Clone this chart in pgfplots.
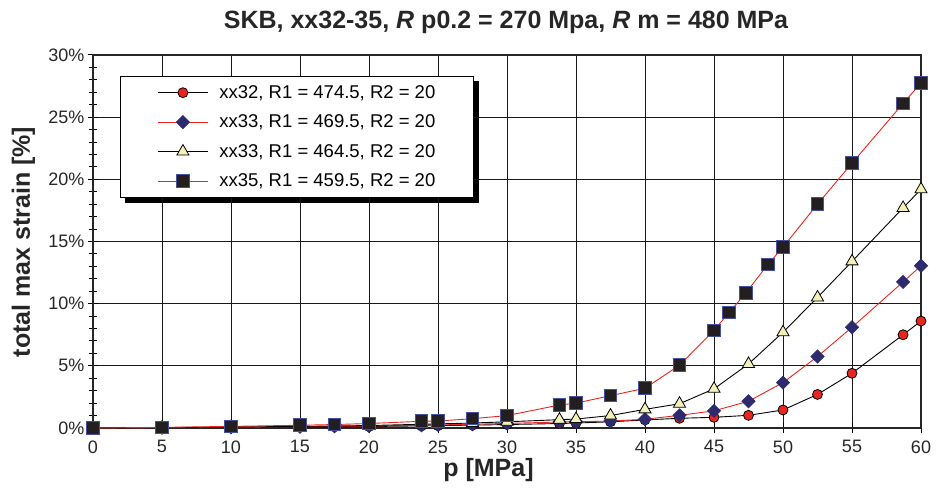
\documentclass[border=0pt]{standalone}
\usepackage{fontspec}
\setmainfont{Liberation Sans}
\usepackage{pgfplots}
\pgfplotsset{compat=1.18}
\usetikzlibrary{backgrounds}
\definecolor{myred}{RGB}{232,38,33}
\definecolor{navy}{RGB}{46,42,110}
\definecolor{paleY}{RGB}{243,240,184}
\definecolor{sqfill}{RGB}{35,31,32}
\definecolor{sqedge}{RGB}{70,80,160}
\begin{document}
\begin{tikzpicture}
\useasboundingbox (-93pt,-65pt) rectangle (843pt,428pt);
\begin{axis}[
  name=ax,
  scale only axis, width=828pt, height=373pt,
  xmin=0, xmax=60, ymin=0, ymax=30,
  xtick={0,5,...,60}, ytick={0,5,...,30}, minor y tick num=4,
  grid=major, major grid style={black!90, line width=0.8pt},
  axis line style={line width=1.3pt, black!85},
  tick align=center, major tick length=10pt, minor tick length=8pt,
  every tick/.style={black, line width=1pt},
  xtick pos=bottom, ytick pos=left,
  tick label style={font=\fontsize{18}{20}\selectfont, color=black!85},
  xticklabel style={yshift=-4pt},
  /pgf/number format/assume math mode=true,
  yticklabel={\pgfmathprintnumber{\tick}\%},
  legend style={name=leg, at={(rel axis cs:0.0326,0.9437)}, anchor=north west,
    draw=black, line width=1pt, fill=white,
    font=\fontsize{18.5}{21}\selectfont, row sep=11pt, column sep=9pt,
    inner xsep=37pt, inner ysep=7pt},
  legend cell align=left,
  legend image code/.code={\draw[mark repeat=2,mark phase=2,#1] plot coordinates {(0pt,0pt) (25pt,0pt) (50pt,0pt)};},
]
\addplot[black, line width=0.9pt, mark=*, mark size=5pt, mark options={fill=myred, draw=black, line width=0.8pt}] coordinates {
(0,0) (5,0.02) (10,0.05) (15,0.08) (17.5,0.1) (20,0.12) (23.8,0.17) (25,0.19) (27.5,0.23) (30,0.28) (33.8,0.36) (35,0.4) (37.5,0.5) (40,0.65) (42.5,0.78) (45,0.86) (47.5,1.02) (50,1.45) (52.5,2.7) (55,4.4) (58.7,7.5) (60,8.6)};
\addlegendentry{\makebox[215pt][l]{xx32, R1 = 474.5, R2 = 20}}
\addplot[myred, line width=0.9pt, mark=square*, mark size=4.6pt, mark options={rotate=45, fill=navy, draw=navy, line width=0.8pt}] coordinates {
(0,0) (5,0.02) (10,0.06) (15,0.1) (17.5,0.13) (20,0.16) (23.8,0.22) (25,0.25) (27.5,0.3) (30,0.37) (33.8,0.48) (35,0.5) (37.5,0.56) (40,0.7) (42.5,1.02) (45,1.38) (47.5,2.15) (50,3.65) (52.5,5.75) (55,8.1) (58.7,11.75) (60,13.05)};
\addlegendentry{\makebox[215pt][l]{xx33, R1 = 469.5, R2 = 20}}
\addplot[black, line width=0.9pt, mark=triangle*, mark size=7pt, mark options={fill=paleY, draw=black, line width=0.8pt}] coordinates {
(0,0) (5,0.03) (10,0.08) (15,0.13) (17.5,0.16) (20,0.2) (23.8,0.3) (25,0.33) (27.5,0.4) (30,0.5) (33.8,0.67) (35,0.72) (37.5,1.0) (40,1.5) (42.5,1.95) (45,3.15) (47.5,5.15) (50,7.7) (52.5,10.5) (55,13.4) (58.7,17.7) (60,19.2)};
\addlegendentry{\makebox[215pt][l]{xx33, R1 = 464.5, R2 = 20}}
\addplot[myred, line width=0.9pt, mark=square*, mark size=6.3pt, mark options={fill=sqfill, draw=sqedge, line width=1pt}] coordinates {
(0,0) (5,0.05) (10,0.13) (15,0.22) (17.5,0.28) (20,0.36) (23.8,0.54) (25,0.56) (27.5,0.75) (30,1.0) (33.8,1.85) (35,2.0) (37.5,2.6) (40,3.2) (42.5,5.05) (45,7.85) (46.1,9.3) (47.3,10.85) (48.9,13.15) (50,14.55) (52.5,18.0) (55,21.3) (58.7,26.1) (60,27.75)};
\addlegendentry{\makebox[215pt][l]{xx35, R1 = 459.5, R2 = 20}}
\end{axis}
\begin{pgfonlayer}{background}
\fill[black] ([shift={(5pt,-5pt)}]leg.south west) rectangle ([shift={(5pt,-5pt)}]leg.north east);
\end{pgfonlayer}
\node[anchor=base, font=\fontsize{25}{28}\selectfont\bfseries, text=black!85] at ([xshift=413pt, yshift=26pt]ax.north west) {SKB, xx32-35, \textit{R} p0.2 = 270 Mpa, \textit{R} m = 480 MPa};
\node[anchor=base, font=\fontsize{25}{28}\selectfont\bfseries, text=black!85] at ([xshift=395.5pt, yshift=-48pt]ax.south west) {p [MPa]};
\node[anchor=base, rotate=90, font=\fontsize{25}{28}\selectfont\bfseries, text=black!85] at ([xshift=-63pt, yshift=186pt]ax.south west) {total max strain [\%]};
\end{tikzpicture}
\end{document}
